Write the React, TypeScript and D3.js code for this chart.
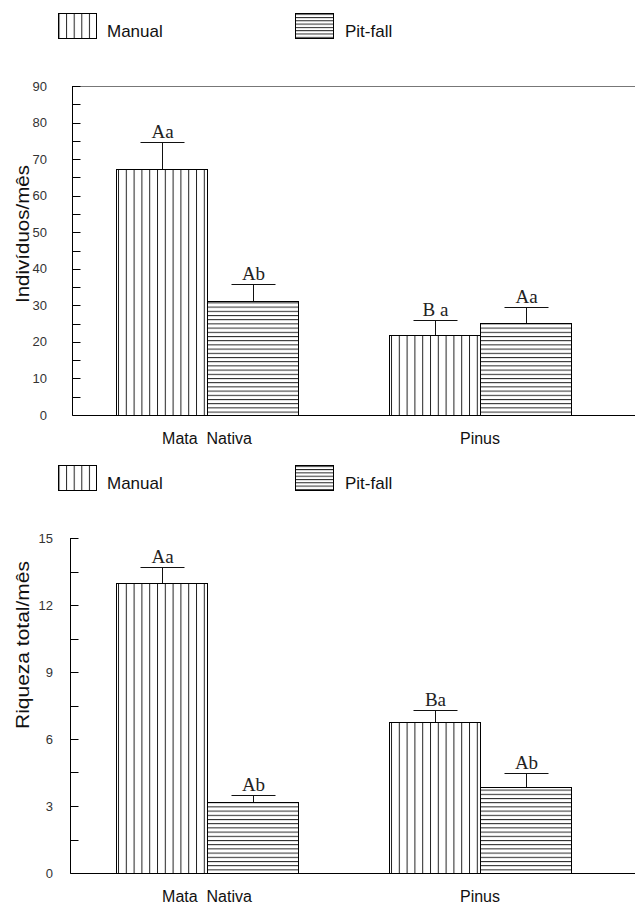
import React from 'react';
import * as d3 from 'd3';

const categories = ['Mata  Nativa', 'Pinus'];
const seriesNames = ['Manual', 'Pit-fall'];

// Chart 1: Indivíduos/mês
const indManual = [67.3, 21.9];
const indManualErr = [7.4, 4.1];
const indPitfall = [31.2, 25.2];
const indPitfallErr = [4.6, 4.3];
const indManualLetters = ['Aa', 'B a'];
const indPitfallLetters = ['Ab', 'Aa'];
const indTicks = [0, 10, 20, 30, 40, 50, 60, 70, 80, 90];
const indMinor = [5, 15, 25, 35, 45, 55, 65, 75, 85];

// Chart 2: Riqueza total/mês
const riqManual = [13.0, 6.77];
const riqManualErr = [0.68, 0.55];
const riqPitfall = [3.2, 3.86];
const riqPitfallErr = [0.3, 0.63];
const riqManualLetters = ['Aa', 'Ba'];
const riqPitfallLetters = ['Ab', 'Ab'];
const riqTicks = [0, 3, 6, 9, 12, 15];
const riqMinor = [1.5, 4.5, 7.5, 10.5, 13.5];

const SANS = '"Liberation Sans", Arial, sans-serif';
const SERIF = '"Liberation Serif", "Times New Roman", serif';

type PanelProps = {
  legendY: number;
  top: number;
  bottom: number;
  axisX: number;
  max: number;
  ticks: number[];
  minor: number[];
  manual: number[];
  manualErr: number[];
  pitfall: number[];
  pitfallErr: number[];
  manualLetters: string[];
  pitfallLetters: string[];
  ylabel: string;
  ylabelLen: number;
  ylabelCenter: number;
  tickGap: number;
  topLine: boolean;
};

function Legend({ y }: { y: number }) {
  return (
    <g>
      <rect x={58.5} y={y + 0.5} width={38} height={25} fill="url(#vertLeg)" stroke="#000" strokeWidth={1} />
      <text x={107} y={y + 24} fontFamily={SANS} fontSize={17} fill="#111">{seriesNames[0]}</text>
      <rect x={295.5} y={y + 0.5} width={38} height={25} fill="url(#horLeg)" stroke="#000" strokeWidth={1} />
      <text x={345} y={y + 24} fontFamily={SANS} fontSize={17} fill="#111">{seriesNames[1]}</text>
    </g>
  );
}

function Panel(p: PanelProps) {
  const y = d3.scaleLinear().domain([0, p.max]).range([p.bottom, p.top]);
  const x = d3.scaleBand<string>().domain(categories).range([70.5, 616.5]).padding(0);
  const sub = d3.scaleBand<string>().domain(seriesNames).range([0, x.bandwidth()]).paddingInner(0).paddingOuter(0.5);
  const rows = [
    { name: seriesNames[0], vals: p.manual, errs: p.manualErr, letters: p.manualLetters, fill: 'url(#vert)' },
    { name: seriesNames[1], vals: p.pitfall, errs: p.pitfallErr, letters: p.pitfallLetters, fill: 'url(#hor)' },
  ];
  const ax = p.axisX + 0.5;
  return (
    <g>
      <Legend y={p.legendY} />
      {p.topLine && (
        <line x1={ax} x2={635} y1={Math.round(y(p.max)) + 0.5} y2={Math.round(y(p.max)) + 0.5} stroke="#777" strokeWidth={1} />
      )}
      {rows.map((r) =>
        categories.map((c, i) => {
          const bx = (x(c) as number) + (sub(r.name) as number);
          const bw = sub.bandwidth();
          const yt = y(r.vals[i]);
          const ye = y(r.vals[i] + r.errs[i]);
          const cx = Math.round(bx + bw / 2) + 0.5;
          return (
            <g key={r.name + c}>
              <rect x={Math.round(bx) + 0.5} y={Math.round(yt) + 0.5} width={Math.round(bw)} height={Math.round(y(0)) - Math.round(yt)} fill={r.fill} stroke="#000" strokeWidth={1} />
              <line x1={cx} x2={cx} y1={Math.round(yt)} y2={Math.round(ye) + 0.5} stroke="#111" strokeWidth={1} />
              <line x1={cx - 22} x2={cx + 22} y1={Math.round(ye) + 0.5} y2={Math.round(ye) + 0.5} stroke="#111" strokeWidth={1} />
              <text x={cx} y={Math.round(ye) - 4} textAnchor="middle" fontFamily={SERIF} fontSize={19} fill="#222">{r.letters[i]}</text>
            </g>
          );
        })
      )}
      {/* axes */}
      <line x1={ax} x2={ax} y1={y(p.max)} y2={Math.round(y(0)) + 0.5} stroke="#000" strokeWidth={1} />
      <line x1={ax} x2={635} y1={Math.round(y(0)) + 0.5} y2={Math.round(y(0)) + 0.5} stroke="#000" strokeWidth={1} />
      {p.ticks.map((t) => (
        <g key={'t' + t}>
          <line x1={ax} x2={ax + 8} y1={Math.round(y(t)) + 0.5} y2={Math.round(y(t)) + 0.5} stroke="#000" strokeWidth={1} />
          <text x={p.axisX - p.tickGap} y={y(t)} dy="0.35em" textAnchor="end" fontFamily={SANS} fontSize={13} fill="#333">{t}</text>
        </g>
      ))}
      {p.minor.map((t) => (
        <line key={'m' + t} x1={ax} x2={ax + 8} y1={Math.round(y(t)) + 0.5} y2={Math.round(y(t)) + 0.5} stroke="#000" strokeWidth={1} />
      ))}
      {categories.map((c) => (
        <text key={'c' + c} x={(x(c) as number) + x.bandwidth() / 2} y={p.bottom + 29} textAnchor="middle" fontFamily={SANS} fontSize={16} fill="#111" style={{ whiteSpace: 'pre' }}>{c}</text>
      ))}
      <text
        transform={`translate(29,${p.ylabelCenter}) rotate(-90)`}
        textAnchor="middle"
        fontFamily={SANS}
        fontSize={18}
        fill="#111"
        textLength={p.ylabelLen}
        lengthAdjust="spacingAndGlyphs"
      >{p.ylabel}</text>
    </g>
  );
}

export default function App() {
  return (
    <svg width={635} height={904} style={{ position: 'absolute', left: 0, top: 0, background: '#fff' }}>
      <defs>
        <pattern id="vert" patternUnits="userSpaceOnUse" width={7.8} height={10} x={1}>
          <line x1={0.5} x2={0.5} y1={0} y2={10} stroke="#222" strokeWidth={1} />
        </pattern>
        <pattern id="hor" patternUnits="userSpaceOnUse" width={10} height={4.2}>
          <line x1={0} x2={10} y1={0.5} y2={0.5} stroke="#222" strokeWidth={1} />
        </pattern>
        <pattern id="vertLeg" patternUnits="userSpaceOnUse" width={7.6} height={10} x={58.5}>
          <line x1={0.5} x2={0.5} y1={0} y2={10} stroke="#222" strokeWidth={1} />
        </pattern>
        <pattern id="horLeg" patternUnits="userSpaceOnUse" width={10} height={3.3} y={0.5}>
          <line x1={0} x2={10} y1={0.5} y2={0.5} stroke="#222" strokeWidth={1} />
        </pattern>
      </defs>
      <rect width={635} height={904} fill="#fff" />
      <Panel
        legendY={13}
        top={86}
        bottom={415}
        axisX={72}
        max={90}
        ticks={indTicks}
        minor={indMinor}
        manual={indManual}
        manualErr={indManualErr}
        pitfall={indPitfall}
        pitfallErr={indPitfallErr}
        manualLetters={indManualLetters}
        pitfallLetters={indPitfallLetters}
        ylabel="Indivíduos/mês"
        ylabelLen={138}
        ylabelCenter={234}
        tickGap={25}
        topLine={true}
      />
      <Panel
        legendY={465}
        top={538}
        bottom={873}
        axisX={70}
        max={15}
        ticks={riqTicks}
        minor={riqMinor}
        manual={riqManual}
        manualErr={riqManualErr}
        pitfall={riqPitfall}
        pitfallErr={riqPitfallErr}
        manualLetters={riqManualLetters}
        pitfallLetters={riqPitfallLetters}
        ylabel="Riqueza total/mês"
        ylabelLen={168}
        ylabelCenter={645}
        tickGap={17}
        topLine={false}
      />
    </svg>
  );
}
